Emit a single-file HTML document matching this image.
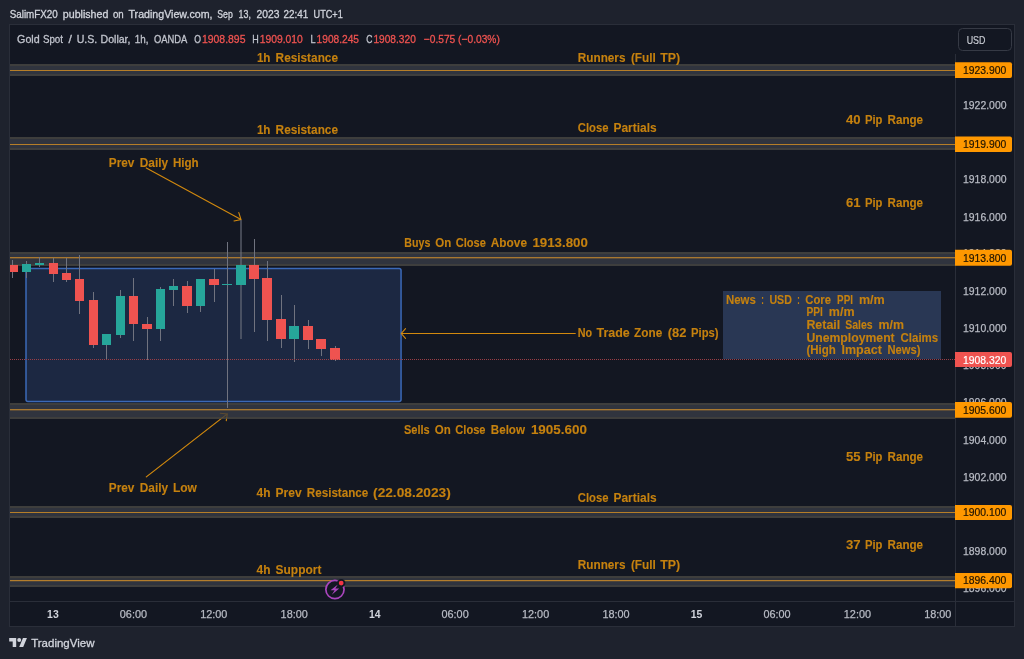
<!DOCTYPE html>
<html lang="en"><head><meta charset="utf-8"><title>XAUUSD 1h chart by SalimFX20</title>
<style>html,body{margin:0;padding:0;background:#1e222d;overflow:hidden}svg{display:block}text{font-family:"Liberation Sans",sans-serif}.b{font-weight:bold;fill:#c5810f;font-size:12.9px;stroke:#c5810f;stroke-width:.12px}.ax{fill:#b8bbc4;font-size:11px;stroke:#b8bbc4;stroke-width:.25px}.hd{font-size:11px;stroke-width:.3px}</style>
</head><body>
<svg width="1024" height="659" viewBox="0 0 1024 659">
<rect x="0" y="0" width="1024" height="659" fill="#1e222d"/>
<g shape-rendering="crispEdges">
<rect x="9" y="24" width="1006" height="603" fill="#2a2e39"/>
<rect x="10" y="25" width="1004" height="601" fill="#131722"/>
</g>
<rect x="26" y="268.5" width="375.05" height="132.9" rx="2" fill="#1c2842" stroke="#3b69b8" stroke-width="1.5"/>
<g shape-rendering="crispEdges">
</g>
<g stroke="#d2890e" stroke-width="1.1" fill="none" stroke-linecap="round">
<path d="M146.3 167.9L241 219.6M238.8 212.6L241 219.6L234 221"/>
<path d="M146.3 476.9L227.3 413.9M220.3 413.2L227.3 413.9L226.3 420.6"/>
<path d="M575.3 333.5L401.3 333.5M405.5 328.7L401.3 333.5L405.5 338.3"/>
</g>
<g shape-rendering="crispEdges">
<rect x="723" y="291" width="218" height="68" fill="#293754"/>
<rect x="10" y="64" width="945" height="2" fill="#3e3e3d"/>
<rect x="10" y="66" width="945" height="8" fill="#30343e"/>
<rect x="10" y="74" width="945" height="2" fill="#3e3e3d"/>
<rect x="10" y="70" width="945" height="1" fill="#b67e28"/>
<rect x="10" y="137" width="945" height="2" fill="#3e3e3d"/>
<rect x="10" y="139" width="945" height="9" fill="#30343e"/>
<rect x="10" y="148" width="945" height="2" fill="#3e3e3d"/>
<rect x="10" y="144" width="945" height="1" fill="#b67e28"/>
<rect x="10" y="252" width="945" height="2" fill="#3e3e3d"/>
<rect x="10" y="254" width="945" height="10" fill="#30343e"/>
<rect x="10" y="264" width="945" height="2" fill="#3e3e3d"/>
<rect x="10" y="257" width="945" height="1" fill="#a87830"/>
<rect x="10" y="258" width="945" height="1" fill="#5c4c38"/>
<rect x="10" y="403" width="945" height="2" fill="#3e3e3d"/>
<rect x="10" y="405" width="945" height="12" fill="#30343e"/>
<rect x="10" y="417" width="945" height="2" fill="#3e3e3d"/>
<rect x="10" y="409" width="945" height="1" fill="#a87830"/>
<rect x="10" y="410" width="945" height="1" fill="#5c4c38"/>
<rect x="10" y="506" width="945" height="2" fill="#3e3e3d"/>
<rect x="10" y="508" width="945" height="8" fill="#30343e"/>
<rect x="10" y="516" width="945" height="2" fill="#3e3e3d"/>
<rect x="10" y="512" width="945" height="1" fill="#b67e28"/>
<rect x="10" y="576" width="945" height="2" fill="#3e3e3d"/>
<rect x="10" y="578" width="945" height="7" fill="#30343e"/>
<rect x="10" y="585" width="945" height="2" fill="#3e3e3d"/>
<rect x="10" y="580" width="945" height="1" fill="#b47e2c"/>
<rect x="10" y="581" width="945" height="1" fill="#4e4438"/>
</g>
<path d="M146.3 476.9L227.3 413.9M220.3 413.2L227.3 413.9L226.3 420.6" stroke="#c5810f" stroke-width="1.1" fill="none" stroke-linecap="round" opacity=".3"/>
<g shape-rendering="crispEdges">
<rect x="12" y="260" width="1" height="18" fill="#70737f"/>
<rect x="26" y="261" width="1" height="17" fill="#70737f"/>
<rect x="39" y="257" width="1" height="10" fill="#70737f"/>
<rect x="53" y="258" width="1" height="24" fill="#70737f"/>
<rect x="66" y="258" width="1" height="24" fill="#70737f"/>
<rect x="79" y="255" width="1" height="59" fill="#70737f"/>
<rect x="93" y="292" width="1" height="56" fill="#70737f"/>
<rect x="106" y="334" width="1" height="26" fill="#70737f"/>
<rect x="120" y="290" width="1" height="48" fill="#70737f"/>
<rect x="133" y="278" width="1" height="63" fill="#70737f"/>
<rect x="147" y="317" width="1" height="43" fill="#70737f"/>
<rect x="160" y="287" width="1" height="54" fill="#70737f"/>
<rect x="173" y="279" width="1" height="27" fill="#70737f"/>
<rect x="187" y="281" width="1" height="32" fill="#70737f"/>
<rect x="200" y="279" width="1" height="33" fill="#70737f"/>
<rect x="214" y="269" width="1" height="33" fill="#70737f"/>
<rect x="227" y="242" width="1" height="166" fill="#70737f"/>
<rect x="240" y="220" width="2" height="119" fill="#70737f" opacity=".55"/>
<rect x="254" y="239" width="1" height="93" fill="#70737f"/>
<rect x="267" y="261" width="1" height="80" fill="#70737f"/>
<rect x="281" y="295" width="1" height="53" fill="#70737f"/>
<rect x="294" y="305" width="1" height="57" fill="#70737f"/>
<rect x="308" y="320" width="1" height="29" fill="#70737f"/>
<rect x="321" y="339" width="1" height="17" fill="#70737f"/>
<rect x="335" y="346" width="1" height="15" fill="#70737f"/>
<rect x="10" y="265" width="8" height="7" fill="#ef5350"/>
<rect x="22" y="264" width="9" height="8" fill="#26a69a"/>
<rect x="35" y="263" width="9" height="2" fill="#26a69a"/>
<rect x="49" y="263" width="9" height="11" fill="#ef5350"/>
<rect x="62" y="273" width="9" height="7" fill="#ef5350"/>
<rect x="75" y="279" width="9" height="22" fill="#ef5350"/>
<rect x="89" y="300" width="9" height="45" fill="#ef5350"/>
<rect x="102" y="334" width="9" height="11" fill="#26a69a"/>
<rect x="116" y="296" width="9" height="39" fill="#26a69a"/>
<rect x="129" y="296" width="9" height="28" fill="#ef5350"/>
<rect x="142" y="324" width="10" height="5" fill="#ef5350"/>
<rect x="156" y="289" width="9" height="40" fill="#26a69a"/>
<rect x="169" y="286" width="9" height="4" fill="#26a69a"/>
<rect x="182" y="286" width="10" height="20" fill="#ef5350"/>
<rect x="196" y="279" width="9" height="27" fill="#26a69a"/>
<rect x="209" y="279" width="10" height="6" fill="#ef5350"/>
<rect x="222" y="284" width="10" height="1" fill="#26a69a"/>
<rect x="236" y="265" width="10" height="20" fill="#26a69a"/>
<rect x="249" y="265" width="10" height="14" fill="#ef5350"/>
<rect x="262" y="278" width="10" height="42" fill="#ef5350"/>
<rect x="276" y="319" width="10" height="20" fill="#ef5350"/>
<rect x="289" y="326" width="10" height="13" fill="#26a69a"/>
<rect x="303" y="326" width="10" height="14" fill="#ef5350"/>
<rect x="316" y="339" width="10" height="10" fill="#ef5350"/>
<rect x="330" y="348" width="10" height="12" fill="#ef5350"/>
<line x1="10" y1="359.5" x2="955" y2="359.5" stroke="#9a3e46" stroke-width="1" stroke-dasharray="1 1"/>
<rect x="955" y="54" width="1" height="572" fill="#2a2e39"/>
<rect x="10" y="601" width="1004" height="1" fill="#2a2e39"/>
</g>
<text class="ax" x="963" y="592.2" textLength="43.5" lengthAdjust="spacingAndGlyphs">1896.000</text>
<text class="ax" x="963" y="555.1" textLength="43.5" lengthAdjust="spacingAndGlyphs">1898.000</text>
<text class="ax" x="963" y="517.9" textLength="43.5" lengthAdjust="spacingAndGlyphs">1900.000</text>
<text class="ax" x="963" y="480.7" textLength="43.5" lengthAdjust="spacingAndGlyphs">1902.000</text>
<text class="ax" x="963" y="443.6" textLength="43.5" lengthAdjust="spacingAndGlyphs">1904.000</text>
<text class="ax" x="963" y="406.4" textLength="43.5" lengthAdjust="spacingAndGlyphs">1906.000</text>
<text class="ax" x="963" y="369.3" textLength="43.5" lengthAdjust="spacingAndGlyphs">1908.000</text>
<text class="ax" x="963" y="332.1" textLength="43.5" lengthAdjust="spacingAndGlyphs">1910.000</text>
<text class="ax" x="963" y="294.9" textLength="43.5" lengthAdjust="spacingAndGlyphs">1912.000</text>
<text class="ax" x="963" y="256.6" textLength="43.5" lengthAdjust="spacingAndGlyphs">1914.000</text>
<text class="ax" x="963" y="220.6" textLength="43.5" lengthAdjust="spacingAndGlyphs">1916.000</text>
<text class="ax" x="963" y="183.4" textLength="43.5" lengthAdjust="spacingAndGlyphs">1918.000</text>
<text class="ax" x="963" y="109.1" textLength="43.5" lengthAdjust="spacingAndGlyphs">1922.000</text>
<path d="M955 62.3H1010a2 2 0 0 1 2 2V75.9a2 2 0 0 1 -2 2H955Z" fill="#ff9800"/>
<text x="963" y="73.9" font-size="11" fill="#1f1400" stroke="#1f1400" stroke-width=".2" textLength="43.3" lengthAdjust="spacingAndGlyphs">1923.900</text>
<path d="M955 136.6H1010a2 2 0 0 1 2 2V149.9a2 2 0 0 1 -2 2H955Z" fill="#ff9800"/>
<text x="963" y="148.1" font-size="11" fill="#1f1400" stroke="#1f1400" stroke-width=".2" textLength="43.3" lengthAdjust="spacingAndGlyphs">1919.900</text>
<path d="M955 249.8H1010a2 2 0 0 1 2 2V263.8a2 2 0 0 1 -2 2H955Z" fill="#ff9800"/>
<text x="963" y="261.6" font-size="11" fill="#1f1400" stroke="#1f1400" stroke-width=".2" textLength="43.3" lengthAdjust="spacingAndGlyphs">1913.800</text>
<path d="M955 401.9H1010a2 2 0 0 1 2 2V415.7a2 2 0 0 1 -2 2H955Z" fill="#ff9800"/>
<text x="963" y="413.6" font-size="11" fill="#1f1400" stroke="#1f1400" stroke-width=".2" textLength="43.3" lengthAdjust="spacingAndGlyphs">1905.600</text>
<path d="M955 505.0H1010a2 2 0 0 1 2 2V517.9a2 2 0 0 1 -2 2H955Z" fill="#ff9800"/>
<text x="963" y="516.2" font-size="11" fill="#1f1400" stroke="#1f1400" stroke-width=".2" textLength="43.3" lengthAdjust="spacingAndGlyphs">1900.100</text>
<path d="M955 573.0H1010a2 2 0 0 1 2 2V586.2a2 2 0 0 1 -2 2H955Z" fill="#ff9800"/>
<text x="963" y="584.4" font-size="11" fill="#1f1400" stroke="#1f1400" stroke-width=".2" textLength="43.3" lengthAdjust="spacingAndGlyphs">1896.400</text>
<path d="M955 351.9H1010a2 2 0 0 1 2 2V365.1a2 2 0 0 1 -2 2H955Z" fill="#ef5350"/>
<text x="963" y="363.5" font-size="11" fill="#ffffff" stroke="#ffffff" stroke-width=".2" textLength="43.3" lengthAdjust="spacingAndGlyphs">1908.320</text>
<rect x="958.5" y="28.5" width="53" height="22" rx="4" fill="#131722" stroke="#363a45" stroke-width="1"/>
<text x="966.7" y="44.0" font-size="11.6" fill="#c9ccd4" stroke="#c9ccd4" stroke-width=".2" textLength="18.8" lengthAdjust="spacingAndGlyphs">USD</text>
<text x="47.1" y="618.2" font-size="10.6" font-weight="bold" fill="#d1d4dc" textLength="11.6" lengthAdjust="spacingAndGlyphs">13</text>
<text class="ax" x="119.8" y="618.3" textLength="27.2" lengthAdjust="spacingAndGlyphs">06:00</text>
<text class="ax" x="200.2" y="618.3" textLength="27.2" lengthAdjust="spacingAndGlyphs">12:00</text>
<text class="ax" x="280.6" y="618.3" textLength="27.2" lengthAdjust="spacingAndGlyphs">18:00</text>
<text x="368.9" y="618.2" font-size="10.6" font-weight="bold" fill="#d1d4dc" textLength="11.6" lengthAdjust="spacingAndGlyphs">14</text>
<text class="ax" x="441.5" y="618.3" textLength="27.2" lengthAdjust="spacingAndGlyphs">06:00</text>
<text class="ax" x="522.0" y="618.3" textLength="27.2" lengthAdjust="spacingAndGlyphs">12:00</text>
<text class="ax" x="602.4" y="618.3" textLength="27.2" lengthAdjust="spacingAndGlyphs">18:00</text>
<text x="690.7" y="618.2" font-size="10.6" font-weight="bold" fill="#d1d4dc" textLength="11.6" lengthAdjust="spacingAndGlyphs">15</text>
<text class="ax" x="763.4" y="618.3" textLength="27.2" lengthAdjust="spacingAndGlyphs">06:00</text>
<text class="ax" x="843.8" y="618.3" textLength="27.2" lengthAdjust="spacingAndGlyphs">12:00</text>
<text class="ax" x="924.2" y="618.3" textLength="27.2" lengthAdjust="spacingAndGlyphs">18:00</text>
<text class="b" x="256.9" y="62.0" textLength="13.6" lengthAdjust="spacingAndGlyphs">1h</text>
<text class="b" x="275.6" y="62.0" textLength="62.4" lengthAdjust="spacingAndGlyphs">Resistance</text>
<text class="b" x="256.9" y="134.0" textLength="13.6" lengthAdjust="spacingAndGlyphs">1h</text>
<text class="b" x="275.6" y="134.0" textLength="62.4" lengthAdjust="spacingAndGlyphs">Resistance</text>
<text class="b" x="577.8" y="62.0" textLength="47.7" lengthAdjust="spacingAndGlyphs">Runners</text>
<text class="b" x="630.9" y="62.0" textLength="25.0" lengthAdjust="spacingAndGlyphs">(Full</text>
<text class="b" x="660.3" y="62.0" textLength="19.9" lengthAdjust="spacingAndGlyphs">TP)</text>
<text class="b" x="577.8" y="569.0" textLength="47.7" lengthAdjust="spacingAndGlyphs">Runners</text>
<text class="b" x="630.9" y="569.0" textLength="25.0" lengthAdjust="spacingAndGlyphs">(Full</text>
<text class="b" x="660.3" y="569.0" textLength="19.9" lengthAdjust="spacingAndGlyphs">TP)</text>
<text class="b" x="577.8" y="132.0" textLength="30.7" lengthAdjust="spacingAndGlyphs">Close</text>
<text class="b" x="613.5" y="132.0" textLength="43.1" lengthAdjust="spacingAndGlyphs">Partials</text>
<text class="b" x="577.8" y="502.0" textLength="30.7" lengthAdjust="spacingAndGlyphs">Close</text>
<text class="b" x="613.5" y="502.0" textLength="43.1" lengthAdjust="spacingAndGlyphs">Partials</text>
<text class="b" x="846.0" y="124.0" textLength="14.6" lengthAdjust="spacingAndGlyphs">40</text>
<text class="b" x="865.0" y="124.0" textLength="17.5" lengthAdjust="spacingAndGlyphs">Pip</text>
<text class="b" x="887.5" y="124.0" textLength="35.6" lengthAdjust="spacingAndGlyphs">Range</text>
<text class="b" x="846.0" y="207.0" textLength="14.6" lengthAdjust="spacingAndGlyphs">61</text>
<text class="b" x="865.0" y="207.0" textLength="17.5" lengthAdjust="spacingAndGlyphs">Pip</text>
<text class="b" x="887.5" y="207.0" textLength="35.6" lengthAdjust="spacingAndGlyphs">Range</text>
<text class="b" x="846.0" y="461.0" textLength="14.6" lengthAdjust="spacingAndGlyphs">55</text>
<text class="b" x="865.0" y="461.0" textLength="17.5" lengthAdjust="spacingAndGlyphs">Pip</text>
<text class="b" x="887.5" y="461.0" textLength="35.6" lengthAdjust="spacingAndGlyphs">Range</text>
<text class="b" x="846.0" y="549.0" textLength="14.6" lengthAdjust="spacingAndGlyphs">37</text>
<text class="b" x="865.0" y="549.0" textLength="17.5" lengthAdjust="spacingAndGlyphs">Pip</text>
<text class="b" x="887.5" y="549.0" textLength="35.6" lengthAdjust="spacingAndGlyphs">Range</text>
<text class="b" x="108.8" y="167.0" textLength="25.6" lengthAdjust="spacingAndGlyphs">Prev</text>
<text class="b" x="139.8" y="167.0" textLength="28.3" lengthAdjust="spacingAndGlyphs">Daily</text>
<text class="b" x="172.9" y="167.0" textLength="25.8" lengthAdjust="spacingAndGlyphs">High</text>
<text class="b" x="108.8" y="492.0" textLength="25.6" lengthAdjust="spacingAndGlyphs">Prev</text>
<text class="b" x="139.8" y="492.0" textLength="28.3" lengthAdjust="spacingAndGlyphs">Daily</text>
<text class="b" x="172.9" y="492.0" textLength="24.0" lengthAdjust="spacingAndGlyphs">Low</text>
<text class="b" x="404.3" y="247.0" textLength="26.0" lengthAdjust="spacingAndGlyphs">Buys</text>
<text class="b" x="435.2" y="247.0" textLength="16.0" lengthAdjust="spacingAndGlyphs">On</text>
<text class="b" x="455.7" y="247.0" textLength="30.2" lengthAdjust="spacingAndGlyphs">Close</text>
<text class="b" x="490.8" y="247.0" textLength="36.2" lengthAdjust="spacingAndGlyphs">Above</text>
<text class="b" x="532.4" y="247.0" textLength="55.5" lengthAdjust="spacingAndGlyphs">1913.800</text>
<text class="b" x="403.9" y="434.0" textLength="25.8" lengthAdjust="spacingAndGlyphs">Sells</text>
<text class="b" x="434.8" y="434.0" textLength="16.0" lengthAdjust="spacingAndGlyphs">On</text>
<text class="b" x="455.3" y="434.0" textLength="30.2" lengthAdjust="spacingAndGlyphs">Close</text>
<text class="b" x="490.8" y="434.0" textLength="34.2" lengthAdjust="spacingAndGlyphs">Below</text>
<text class="b" x="530.9" y="434.0" textLength="56.0" lengthAdjust="spacingAndGlyphs">1905.600</text>
<text class="b" x="577.8" y="337.0" textLength="14.4" lengthAdjust="spacingAndGlyphs">No</text>
<text class="b" x="596.6" y="337.0" textLength="33.2" lengthAdjust="spacingAndGlyphs">Trade</text>
<text class="b" x="634.1" y="337.0" textLength="28.1" lengthAdjust="spacingAndGlyphs">Zone</text>
<text class="b" x="667.7" y="337.0" textLength="18.7" lengthAdjust="spacingAndGlyphs">(82</text>
<text class="b" x="691.1" y="337.0" textLength="27.5" lengthAdjust="spacingAndGlyphs">Pips)</text>
<text class="b" x="256.6" y="497.0" textLength="13.9" lengthAdjust="spacingAndGlyphs">4h</text>
<text class="b" x="275.6" y="497.0" textLength="26.1" lengthAdjust="spacingAndGlyphs">Prev</text>
<text class="b" x="306.8" y="497.0" textLength="61.5" lengthAdjust="spacingAndGlyphs">Resistance</text>
<text class="b" x="373.1" y="497.0" textLength="77.6" lengthAdjust="spacingAndGlyphs">(22.08.2023)</text>
<text class="b" x="256.6" y="574.0" textLength="13.9" lengthAdjust="spacingAndGlyphs">4h</text>
<text class="b" x="275.6" y="574.0" textLength="45.8" lengthAdjust="spacingAndGlyphs">Support</text>
<text class="b" x="725.9" y="304.0" textLength="29.9" lengthAdjust="spacingAndGlyphs">News</text>
<text class="b" x="761.3" y="304.0" textLength="2.6" lengthAdjust="spacingAndGlyphs">:</text>
<text class="b" x="769.4" y="304.0" textLength="22.5" lengthAdjust="spacingAndGlyphs">USD</text>
<text class="b" x="797.3" y="304.0" textLength="2.5" lengthAdjust="spacingAndGlyphs">:</text>
<text class="b" x="805.3" y="304.0" textLength="25.7" lengthAdjust="spacingAndGlyphs">Core</text>
<text class="b" x="837.1" y="304.0" textLength="15.8" lengthAdjust="spacingAndGlyphs">PPI</text>
<text class="b" x="858.9" y="304.0" textLength="25.9" lengthAdjust="spacingAndGlyphs">m/m</text>
<text class="b" x="806.4" y="316.0" textLength="16.4" lengthAdjust="spacingAndGlyphs">PPI</text>
<text class="b" x="828.8" y="316.0" textLength="25.7" lengthAdjust="spacingAndGlyphs">m/m</text>
<text class="b" x="806.4" y="329.0" textLength="33.8" lengthAdjust="spacingAndGlyphs">Retail</text>
<text class="b" x="845.2" y="329.0" textLength="27.5" lengthAdjust="spacingAndGlyphs">Sales</text>
<text class="b" x="878.6" y="329.0" textLength="25.5" lengthAdjust="spacingAndGlyphs">m/m</text>
<text class="b" x="806.4" y="342.0" textLength="88.3" lengthAdjust="spacingAndGlyphs">Unemployment</text>
<text class="b" x="900.6" y="342.0" textLength="37.6" lengthAdjust="spacingAndGlyphs">Claims</text>
<text class="b" x="806.4" y="354.0" textLength="29.4" lengthAdjust="spacingAndGlyphs">(High</text>
<text class="b" x="841.5" y="354.0" textLength="40.4" lengthAdjust="spacingAndGlyphs">Impact</text>
<text class="b" x="887.4" y="354.0" textLength="33.0" lengthAdjust="spacingAndGlyphs">News)</text>
<text class="hd" x="9.7" y="18.1" style="font-size:10.6px" fill="#d1d4dc" stroke="#d1d4dc" textLength="48.1" lengthAdjust="spacingAndGlyphs">SalimFX20</text>
<text class="hd" x="62.8" y="18.1" style="font-size:10.6px" fill="#d1d4dc" stroke="#d1d4dc" textLength="45.6" lengthAdjust="spacingAndGlyphs">published</text>
<text class="hd" x="112.9" y="18.1" style="font-size:10.6px" fill="#d1d4dc" stroke="#d1d4dc" textLength="10.8" lengthAdjust="spacingAndGlyphs">on</text>
<text class="hd" x="128.5" y="18.1" style="font-size:10.6px" fill="#d1d4dc" stroke="#d1d4dc" textLength="84.0" lengthAdjust="spacingAndGlyphs">TradingView.com,</text>
<text class="hd" x="217.3" y="18.1" style="font-size:10.6px" fill="#d1d4dc" stroke="#d1d4dc" textLength="15.5" lengthAdjust="spacingAndGlyphs">Sep</text>
<text class="hd" x="238.6" y="18.1" style="font-size:10.6px" fill="#d1d4dc" stroke="#d1d4dc" textLength="12.4" lengthAdjust="spacingAndGlyphs">13,</text>
<text class="hd" x="256.6" y="18.1" style="font-size:10.6px" fill="#d1d4dc" stroke="#d1d4dc" textLength="22.9" lengthAdjust="spacingAndGlyphs">2023</text>
<text class="hd" x="283.5" y="18.1" style="font-size:10.6px" fill="#d1d4dc" stroke="#d1d4dc" textLength="24.7" lengthAdjust="spacingAndGlyphs">22:41</text>
<text class="hd" x="313.6" y="18.1" style="font-size:10.6px" fill="#d1d4dc" stroke="#d1d4dc" textLength="29.2" lengthAdjust="spacingAndGlyphs">UTC+1</text>
<text class="hd" x="17.1" y="42.8" fill="#c1c4cd" stroke="#c1c4cd" textLength="22.6" lengthAdjust="spacingAndGlyphs">Gold</text>
<text class="hd" x="42.9" y="42.8" fill="#c1c4cd" stroke="#c1c4cd" textLength="20.1" lengthAdjust="spacingAndGlyphs">Spot</text>
<text class="hd" x="68.6" y="42.8" fill="#c1c4cd" stroke="#c1c4cd" textLength="3.4" lengthAdjust="spacingAndGlyphs">/</text>
<text class="hd" x="76.7" y="42.8" fill="#c1c4cd" stroke="#c1c4cd" textLength="20.6" lengthAdjust="spacingAndGlyphs">U.S.</text>
<text class="hd" x="100.5" y="42.8" fill="#c1c4cd" stroke="#c1c4cd" textLength="30.0" lengthAdjust="spacingAndGlyphs">Dollar,</text>
<text class="hd" x="134.8" y="42.8" fill="#c1c4cd" stroke="#c1c4cd" textLength="13.7" lengthAdjust="spacingAndGlyphs">1h,</text>
<text class="hd" x="153.9" y="42.8" fill="#c1c4cd" stroke="#c1c4cd" textLength="33.4" lengthAdjust="spacingAndGlyphs">OANDA</text>
<text class="hd" x="194.3" y="42.8" fill="#c1c4cd" stroke="#c1c4cd" textLength="6.7" lengthAdjust="spacingAndGlyphs">O</text>
<text class="hd" x="201.9" y="42.8" fill="#ef5350" stroke="#ef5350" textLength="43.6" lengthAdjust="spacingAndGlyphs">1908.895</text>
<text class="hd" x="252.3" y="42.8" fill="#c1c4cd" stroke="#c1c4cd" textLength="6.5" lengthAdjust="spacingAndGlyphs">H</text>
<text class="hd" x="259.7" y="42.8" fill="#ef5350" stroke="#ef5350" textLength="43.2" lengthAdjust="spacingAndGlyphs">1909.010</text>
<text class="hd" x="310.5" y="42.8" fill="#c1c4cd" stroke="#c1c4cd" textLength="5.1" lengthAdjust="spacingAndGlyphs">L</text>
<text class="hd" x="316.6" y="42.8" fill="#ef5350" stroke="#ef5350" textLength="42.4" lengthAdjust="spacingAndGlyphs">1908.245</text>
<text class="hd" x="366.3" y="42.8" fill="#c1c4cd" stroke="#c1c4cd" textLength="6.2" lengthAdjust="spacingAndGlyphs">C</text>
<text class="hd" x="373.4" y="42.8" fill="#ef5350" stroke="#ef5350" textLength="42.4" lengthAdjust="spacingAndGlyphs">1908.320</text>
<text class="hd" x="423.8" y="42.8" fill="#ef5350" stroke="#ef5350" textLength="76.0" lengthAdjust="spacingAndGlyphs">−0.575 (−0.03%)</text>
<circle cx="334.95" cy="589.55" r="9.1" fill="#131722" stroke="#aa46be" stroke-width="1.7"/>
<path d="M337.9 584.6L330.5 590.3H334.6L331.8 594.8L339.2 588.6H335.3Z" fill="#aa46be"/>
<circle cx="341.2" cy="583.1" r="4.2" fill="#131722"/>
<circle cx="341.2" cy="583.1" r="2.4" fill="#f23645"/>
<g transform="translate(9.2 636.1) scale(0.5)" fill="#d1d4dc"><path d="M14 22H7V11H0V4h14v18zM28 22h-8l7.5-18h8L28 22z"/><circle cx="20" cy="8" r="4"/></g>
<text x="31.2" y="647.2" font-size="11.6" fill="#d1d4dc" stroke="#d1d4dc" stroke-width=".3" textLength="63.3" lengthAdjust="spacingAndGlyphs">TradingView</text>
</svg></body></html>
